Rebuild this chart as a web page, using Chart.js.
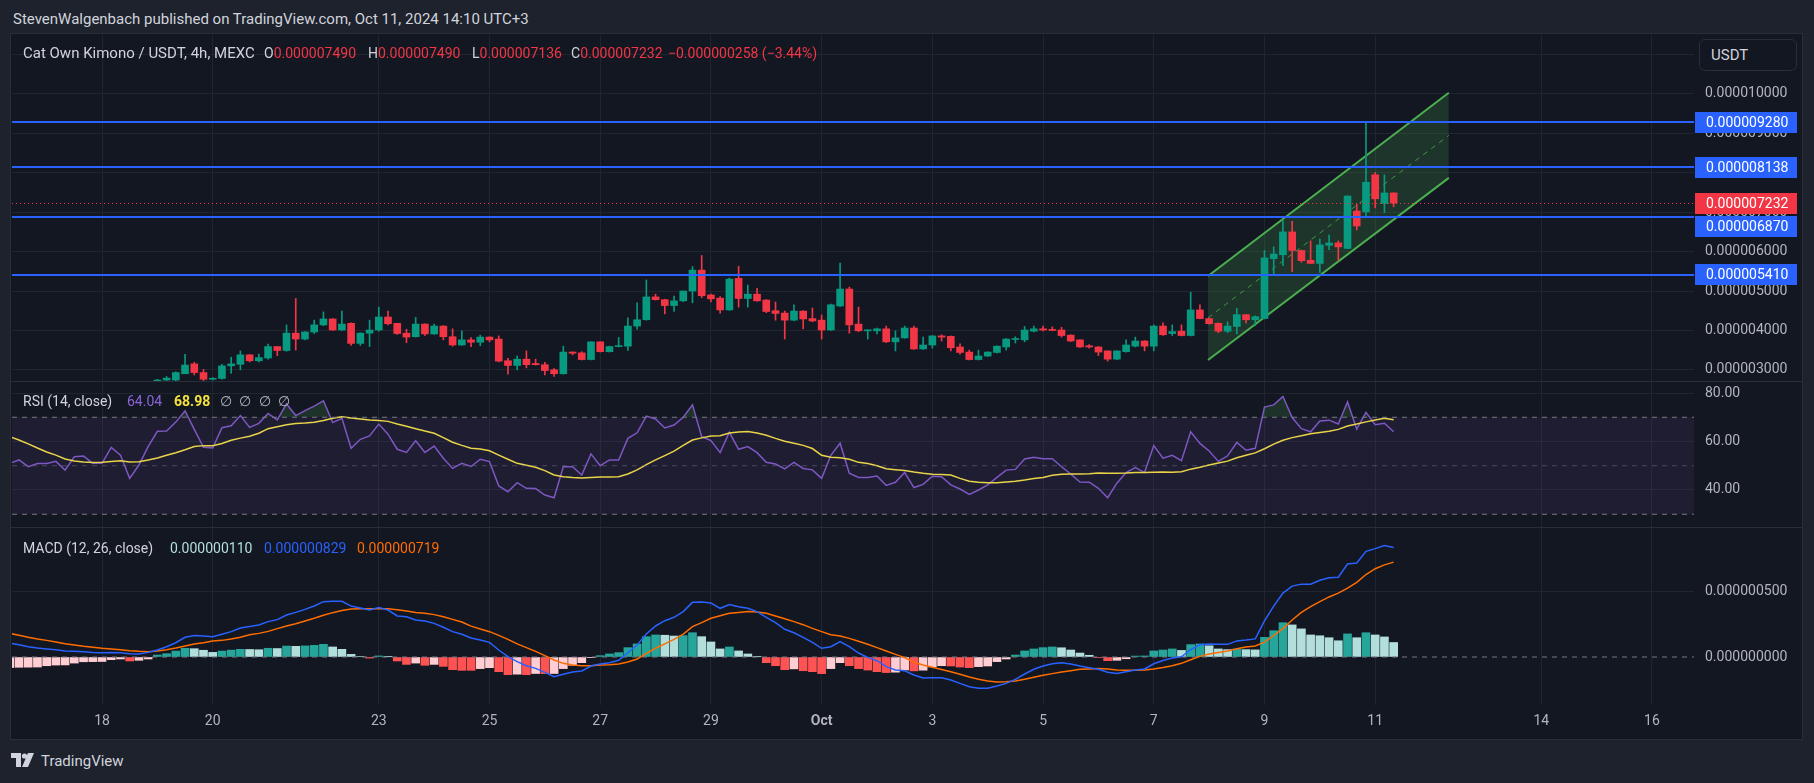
<!DOCTYPE html>
<html>
<head>
<meta charset="utf-8">
<script src="https://cdn.jsdelivr.net/npm/chart.js@4.4.1/dist/chart.umd.min.js"></script>
<style>
   html, body { margin: 0; padding: 0; width: 1814px; height: 783px; overflow: hidden; background: #1e222d; font-family: Roboto, 'Noto Sans', sans-serif; }
   .abs { position: absolute; }
   #frame { left: 10px; top: 33px; width: 1791px; height: 705px; background: #131722; border: 1px solid #2a2e39; }
   .sep { left: 11px; width: 1791px; height: 1px; background: #2a2e39; }
   canvas { position: absolute; left: 12px; }
   .txt { white-space: nowrap; line-height: 20px; font-size: 14px; color: #d1d4dc; }
   #header { left: 13px; top: 9px; font-size: 15px; color: #d1d4dc; }
   #usdt { left: 1699px; top: 39px; width: 96px; height: 30px; border: 1px solid #2a2e39; border-radius: 6px; background: #131722; color: #d1d4dc; font-size: 15px; line-height: 30px; box-sizing: content-box; }
   #usdt span { margin-left: 11px; }
   .red { color: #f23645; }
   #tvlogo { left: 11px; top: 751px; color: #d1d4dc; font-size: 15px; line-height: 20px; }
</style>
</head>
<body>
<div id="frame" class="abs"></div>
<canvas id="mainChart" width="1789" height="346" style="top:35px"></canvas>
<canvas id="rsiChart" width="1789" height="145" style="top:382px"></canvas>
<canvas id="macdChart" width="1789" height="210" style="top:528px"></canvas>
<div class="abs sep" style="top:381px"></div>
<div class="abs sep" style="top:527px"></div>

<div id="header" class="abs txt">StevenWalgenbach published on TradingView.com, Oct 11, 2024 14:10 UTC+3</div>

<div class="abs txt" style="left:23px;top:43px;font-size:15px">Cat Own Kimono / USDT, 4h, MEXC</div>
<div class="abs txt" style="left:264px;top:43px">O<span class="red">0.000007490</span></div>
<div class="abs txt" style="left:368px;top:43px">H<span class="red">0.000007490</span></div>
<div class="abs txt" style="left:472px;top:43px">L<span class="red">0.000007136</span></div>
<div class="abs txt" style="left:571px;top:43px">C<span class="red">0.000007232</span></div>
<div class="abs txt red" style="left:668px;top:43px">−0.000000258 (−3.44%)</div>

<div class="abs txt" style="left:23px;top:391px">RSI (14, close)</div>
<div class="abs txt" style="left:127px;top:391px;color:#8a64d6">64.04</div>
<div class="abs txt" style="left:174px;top:391px;color:#f5e23c;font-weight:bold">68.98</div>
<div class="abs txt" style="left:220px;top:391px;color:#b2b5be;word-spacing:4px">∅ ∅ ∅ ∅</div>

<div class="abs txt" style="left:23px;top:538px">MACD (12, 26, close)</div>
<div class="abs txt" style="left:170px;top:538px;color:#b2dfdb">0.000000110</div>
<div class="abs txt" style="left:264px;top:538px;color:#2962ff">0.000000829</div>
<div class="abs txt" style="left:357px;top:538px;color:#ff6d00">0.000000719</div>

<div id="usdt" class="abs"><span>USDT</span></div>

<div id="tvlogo" class="abs">
   <svg width="26" height="14" viewBox="0 0 26 14" style="vertical-align:-1px"><path d="M0 0h10v14h-5V5H0z M17 0h6l-6 14h-6z" fill="#d1d4dc"/><circle cx="13.5" cy="3" r="2.6" fill="#d1d4dc"/></svg><span style="margin-left:4px">TradingView</span>
</div>

<script>
// prices in units of 1e-6 USDT, MACD in units of 1e-9, one value per 4h candle
const FIRST_CANDLE = 6;        // candle index of opens[0]; index 0 = Sep 18 00:00
const FIRST_IND = -10;         // candle index of rsiValues[0] etc.

const opens = [
   2.70, 2.74, 2.74, 2.90, 3.15, 2.93, 2.76, 2.78, 3.10, 3.14,
   3.38, 3.23, 3.30, 3.59, 3.49, 3.93, 3.78, 3.96, 4.14, 4.29,
   4.01, 4.18, 3.67, 3.93, 4.01, 4.34, 4.18, 3.93, 3.84, 4.16,
   3.91, 4.11, 3.84, 3.63, 3.76, 3.70, 3.83, 3.78, 3.23, 3.11,
   3.27, 3.16, 3.13, 3.00, 2.90, 3.45, 3.43, 3.26, 3.71, 3.46,
   3.59, 3.60, 4.11, 4.27, 4.85, 4.78, 4.63, 4.75, 5.00, 5.53,
   4.90, 4.82, 4.52, 5.32, 4.81, 4.92, 4.77, 4.50, 4.44, 4.26,
   4.49, 4.30, 4.26, 4.01, 4.62, 5.05, 4.16, 3.99, 3.99, 4.04,
   3.71, 3.81, 4.06, 3.53, 3.63, 3.86, 3.85, 3.58, 3.45, 3.26,
   3.35, 3.44, 3.58, 3.77, 3.76, 3.98, 4.04, 4.01, 4.01, 3.88,
   3.76, 3.61, 3.58, 3.48, 3.27, 3.46, 3.60, 3.73, 3.60, 4.11,
   3.92, 3.98, 3.87, 4.52, 4.30, 4.18, 3.98, 4.10, 4.40, 4.27,
   4.30, 5.82, 5.92, 6.50, 6.03, 5.78, 5.70, 6.16, 6.22, 6.08,
   7.03, 7.01, 7.95, 7.22, 7.49
];
const highs = [
   2.76, 2.83, 2.95, 3.39, 3.19, 3.01, 2.80, 3.14, 3.32, 3.48,
   3.39, 3.40, 3.65, 3.59, 4.14, 4.81, 3.97, 4.26, 4.47, 4.30,
   4.49, 4.19, 3.94, 4.26, 4.59, 4.49, 4.18, 4.03, 4.33, 4.17,
   4.16, 4.12, 4.04, 3.99, 3.82, 3.88, 3.84, 3.86, 3.29, 3.35,
   3.48, 3.27, 3.19, 3.03, 3.60, 3.46, 3.46, 3.71, 3.71, 3.60,
   3.82, 4.32, 4.70, 5.28, 4.92, 4.79, 4.87, 5.00, 5.62, 5.90,
   4.92, 4.86, 5.33, 5.63, 5.15, 5.07, 4.78, 4.72, 4.49, 4.65,
   4.50, 4.57, 4.39, 4.67, 5.71, 5.10, 4.59, 4.01, 4.06, 4.11,
   3.99, 4.11, 4.11, 3.83, 3.87, 3.89, 3.86, 3.66, 3.50, 3.50,
   3.46, 3.61, 3.79, 3.84, 4.10, 4.11, 4.11, 4.09, 4.08, 3.89,
   3.76, 3.64, 3.59, 3.48, 3.48, 3.76, 3.83, 3.74, 4.14, 4.19,
   4.14, 4.14, 4.97, 4.65, 4.31, 4.19, 4.22, 4.56, 4.41, 4.37,
   6.03, 6.12, 6.79, 6.77, 6.04, 6.27, 6.32, 6.42, 6.27, 7.42,
   7.20, 9.28, 8.01, 7.95, 7.49
];
const lows = [
   2.65, 2.72, 2.72, 2.90, 2.87, 2.72, 2.74, 2.76, 2.91, 3.00,
   3.20, 3.20, 3.27, 3.36, 3.47, 3.50, 3.76, 3.92, 4.12, 4.00,
   4.00, 3.62, 3.62, 3.59, 3.98, 4.14, 3.90, 3.69, 3.83, 3.87,
   3.90, 3.76, 3.60, 3.62, 3.59, 3.61, 3.71, 3.20, 2.89, 3.00,
   3.05, 3.12, 2.87, 2.83, 2.89, 3.38, 3.25, 3.25, 3.45, 3.45,
   3.58, 3.49, 4.03, 4.26, 4.77, 4.42, 4.48, 4.73, 4.70, 4.83,
   4.72, 4.44, 4.51, 4.59, 4.59, 4.74, 4.45, 4.26, 3.78, 4.25,
   4.04, 4.22, 3.78, 4.00, 4.60, 3.93, 3.97, 3.78, 3.91, 3.69,
   3.48, 3.80, 3.52, 3.52, 3.55, 3.73, 3.48, 3.40, 3.25, 3.25,
   3.34, 3.43, 3.50, 3.68, 3.71, 3.96, 3.99, 3.99, 3.83, 3.72,
   3.57, 3.55, 3.36, 3.22, 3.26, 3.45, 3.58, 3.48, 3.48, 3.87,
   3.87, 3.86, 3.86, 4.29, 4.16, 3.94, 3.94, 3.91, 4.19, 4.12,
   4.29, 5.44, 5.64, 5.49, 5.73, 5.69, 5.47, 6.05, 5.78, 6.07,
   6.55, 6.89, 7.11, 6.99, 7.136
];
const closes = [
   2.74, 2.79, 2.93, 3.12, 2.93, 2.76, 2.78, 3.10, 3.15, 3.38,
   3.23, 3.31, 3.59, 3.49, 3.93, 3.78, 3.96, 4.14, 4.29, 4.01,
   4.16, 3.67, 3.93, 4.01, 4.34, 4.17, 3.92, 3.83, 4.16, 3.91,
   4.11, 3.84, 3.63, 3.76, 3.70, 3.83, 3.76, 3.22, 3.11, 3.27,
   3.13, 3.13, 2.98, 2.90, 3.45, 3.42, 3.26, 3.71, 3.46, 3.59,
   3.60, 4.11, 4.27, 4.85, 4.78, 4.63, 4.75, 5.00, 5.53, 4.88,
   4.80, 4.52, 5.30, 4.81, 4.92, 4.75, 4.48, 4.43, 4.26, 4.49,
   4.29, 4.24, 4.01, 4.65, 5.05, 4.14, 3.99, 4.00, 4.04, 3.71,
   3.81, 4.06, 3.53, 3.63, 3.86, 3.83, 3.56, 3.44, 3.26, 3.35,
   3.45, 3.60, 3.78, 3.79, 4.01, 4.04, 4.01, 4.00, 3.87, 3.73,
   3.58, 3.58, 3.45, 3.27, 3.48, 3.63, 3.73, 3.60, 4.11, 3.89,
   3.97, 3.87, 4.52, 4.30, 4.17, 3.98, 4.11, 4.40, 4.27, 4.35,
   5.84, 5.94, 6.50, 6.03, 5.77, 5.70, 6.17, 6.22, 6.12, 7.41,
   6.65, 7.76, 7.34, 7.49, 7.232
];

const rsiValues = [
   51.0, 52.4, 49.6, 50.9, 50.9, 51.8, 48.2, 53.7, 54.0, 51.0,
   51.0, 57.6, 54.4, 44.8, 50.3, 57.9, 64.2, 64.3, 68.0, 72.6,
   65.0, 57.6, 57.3, 65.7, 66.5, 70.7, 65.8, 67.5, 71.6, 68.9,
   75.5, 70.7, 72.7, 74.6, 76.8, 67.8, 69.6, 57.2, 60.9, 62.3,
   67.2, 63.0, 56.8, 55.5, 60.3, 55.5, 58.1, 53.1, 48.9, 51.0,
   49.7, 52.7, 51.7, 41.7, 39.3, 43.0, 40.7, 40.6, 37.9, 36.8,
   49.6, 49.6, 46.2, 54.9, 50.0, 52.4, 52.4, 61.3, 63.6, 70.5,
   69.3, 65.6, 66.8, 70.0, 75.1, 62.0, 60.4, 55.4, 63.8, 56.8,
   57.9, 55.4, 51.4, 50.7, 48.7, 51.4, 48.9, 48.3, 44.8, 54.3,
   59.3, 46.9, 45.2, 45.2, 45.8, 41.9, 43.2, 47.2, 41.0, 42.3,
   45.7, 45.5, 42.1, 40.4, 38.2, 40.0, 42.1, 45.2, 48.2, 48.5,
   52.8, 53.5, 52.9, 52.9, 49.6, 46.6, 43.3, 43.2, 40.7, 36.8,
   42.8, 47.2, 49.2, 47.2, 58.3, 53.1, 54.3, 52.1, 64.0, 59.2,
   56.1, 51.8, 54.1, 59.6, 56.4, 57.2, 74.2, 75.1, 78.6, 69.9,
   65.3, 64.0, 68.5, 68.8, 67.2, 76.3, 65.1, 72.0, 66.9, 67.5,
   64.04
];
const rsiMaValues = [
   62.0, 60.6, 59.0, 57.3, 55.7, 54.4, 52.8, 52.0, 51.5, 51.3,
   51.4, 51.8, 52.1, 51.5, 51.7, 52.4, 53.2, 54.3, 55.4, 56.6,
   57.9, 58.3, 58.3, 59.2, 60.5, 61.4, 62.2, 63.4, 65.3, 66.1,
   66.9, 67.4, 67.6, 67.9, 68.7, 69.6, 70.2, 69.7, 69.3, 68.9,
   68.7, 68.3, 67.2, 66.3, 65.3, 64.3, 63.4, 61.6, 59.7, 58.4,
   57.2, 56.9, 56.2, 54.4, 52.7, 51.0, 50.2, 49.4, 48.0, 46.2,
   45.5, 45.2, 45.0, 45.2, 45.4, 45.4, 45.5, 46.6, 48.3, 50.5,
   52.4, 54.2, 56.0, 58.4, 60.6, 61.5, 62.3, 62.4, 63.5, 63.9,
   64.1, 63.5, 62.6, 61.3, 60.1, 59.3, 58.4, 57.1, 54.3, 53.5,
   53.3, 52.7, 51.4, 50.9, 50.0, 48.8, 48.4, 48.0, 47.4, 46.9,
   46.5, 46.4, 46.2, 44.8, 43.6, 43.2, 43.0, 43.0, 43.3, 43.6,
   44.1, 44.7, 45.2, 46.1, 46.5, 46.6, 46.6, 46.7, 47.0, 46.9,
   46.9, 47.0, 47.2, 47.2, 47.3, 47.4, 47.3, 47.5, 48.6, 49.4,
   50.3, 51.1, 51.9, 53.3, 54.3, 55.3, 57.0, 58.9, 60.5, 61.6,
   62.4, 63.2, 63.7, 64.2, 65.0, 66.4, 67.2, 68.1, 68.9, 69.6,
   68.98
];
const macdValues = [
   106, 93, 78, 68, 61, 55, 45, 43, 40, 35,
   33, 35, 33, 25, 23, 35, 53, 78, 108, 149,
   162, 159, 154, 172, 192, 220, 231, 242, 268, 283,
   318, 338, 361, 386, 419, 422, 422, 386, 371, 356,
   374, 356, 311, 305, 280, 273, 255, 225, 192, 172,
   144, 129, 111, 53, 3, -35, -66, -86, -116, -149,
   -131, -114, -106, -68, -53, -43, -25, 33, 91, 174,
   235, 275, 301, 344, 414, 417, 409, 369, 397, 381,
   369, 344, 301, 260, 210, 184, 149, 111, 66, 78,
   116, 78, 30, -3, -28, -73, -99, -104, -136, -159,
   -158, -158, -174, -200, -225, -237, -237, -220, -200, -169,
   -129, -93, -68, -51, -43, -53, -68, -81, -93, -116,
   -124, -111, -99, -91, -51, -26, -7, 2, 55, 93,
   99, 96, 96, 122, 128, 137, 274, 385, 484, 537,
   552, 552, 581, 601, 604, 704, 712, 800, 821, 844,
   829
];
const signalValues = [
   179, 164, 149, 136, 126, 114, 101, 91, 81, 73,
   66, 61, 55, 48, 43, 40, 45, 55, 68, 83,
   98, 108, 121, 126, 136, 149, 168, 179, 194, 215,
   235, 252, 273, 293, 316, 336, 353, 364, 366, 366,
   366, 366, 358, 348, 338, 331, 321, 305, 285, 265,
   234, 212, 192, 164, 134, 99, 71, 43, 10, -23,
   -48, -61, -66, -66, -61, -58, -53, -38, -15, 28,
   66, 99, 134, 174, 230, 260, 293, 313, 331, 338,
   344, 341, 331, 311, 290, 268, 245, 217, 192, 169,
   159, 141, 119, 96, 71, 46, 20, -5, -40, -61,
   -78, -95, -111, -131, -152, -169, -182, -189, -187, -182,
   -169, -154, -139, -126, -114, -104, -93, -91, -88, -91,
   -99, -101, -101, -99, -91, -80, -66, -48, -21, 5,
   23, 34, 46, 63, 75, 84, 113, 163, 215, 280,
   338, 382, 420, 455, 484, 522, 566, 625, 669, 698,
   719
];
const histValues = [
   -80, -78, -77, -76, -66, -61, -60, -46, -36, -35,
   -34, -20, -15, -30, -25, -15, 15, 25, 45, 66,
   63, 51, 35, 45, 52, 58, 57, 55, 66, 64,
   83, 81, 84, 88, 96, 76, 58, 20, 4, -8,
   8, 2, -30, -56, -46, -63, -56, -71, -96, -101,
   -101, -88, -81, -111, -134, -130, -134, -125, -126, -125,
   -88, -63, -43, -5, 10, 23, 33, 71, 99, 154,
   167, 165, 159, 162, 184, 154, 114, 61, 76, 46,
   23, 2, -43, -66, -96, -90, -104, -111, -126, -88,
   -43, -66, -88, -99, -111, -118, -115, -98, -105, -100,
   -75, -66, -68, -76, -81, -73, -68, -35, -15, 15,
   46, 61, 71, 76, 70, 53, 30, 13, -3, -28,
   -25, -13, 7, 8, 46, 53, 61, 50, 94, 99,
   85, 61, 56, 61, 56, 54, 149, 199, 260, 243,
   213, 167, 161, 146, 123, 175, 146, 184, 167, 152,
   110
];

// horizontal levels, last price, channel drawing (price units 1e-6)
const levelPrices = [9.280, 8.138, 6.870, 5.410];
const lastPrice = 7.232;
const channelDays = [19.98, 24.33];
const channelUpper = [5.38, 10.03];
const channelLower = [3.25, 7.87];
const channelMid = [4.32, 8.95];

// axis ticks (x in days from Sep 18 00:00)
const dayTicks = [0, 2, 5, 7, 9, 11, 13, 15, 17, 19, 21, 23, 26, 28];
const dayLabels = ['18', '20', '23', '25', '27', '29', 'Oct', '3', '5', '7', '9', '11', '14', '16'];
const priceTicks = [3, 4, 5, 6, 7, 8, 9, 10, 11];
const rsiTicks = [40, 60, 80];
const rsiLevels = [70, 50, 30];
const macdTicks = [0, 500];

const X_MIN = -1.626, X_MAX = 28.759;
const UP = '#089981', DOWN = '#f23645', LEVEL = '#2962ff';
const GRID = '#21252f', AXIS_TEXT = '#b2b5be';

Chart.defaults.font.family = "Roboto, 'Noto Sans', sans-serif";
Chart.defaults.font.size = 14;
Chart.defaults.color = AXIS_TEXT;

const candleDays = opens.map((o, i) => (FIRST_CANDLE + i) / 6);
const indDays = rsiValues.map((v, i) => (FIRST_IND + i) / 6);
const candleColors = opens.map((o, i) => closes[i] >= o ? UP : DOWN);
const histColors = histValues.map((v, i) => {
   const prev = i > 0 ? histValues[i - 1] : v - 1;
   if (v >= 0) return v > prev ? '#26a69a' : '#b2dfdb';
   return v > prev ? '#ffcdd2' : '#ff5252';
});
const pts = (days, vals) => vals.map((v, i) => ({ x: days[i], y: v }));
const hline = (v) => [{ x: X_MIN, y: v }, { x: X_MAX, y: v }];

function xAxis(withLabels) {
   return {
      type: 'linear', min: X_MIN, max: X_MAX, offset: false,
      afterBuildTicks: (s) => { s.ticks = dayTicks.map(v => ({ value: v })); },
      afterFit: (s) => { s.height = withLabels ? 33 : 0; s.paddingLeft = 0; s.paddingRight = 0; },
      grid: { color: GRID, drawTicks: false, offset: false },
      border: { display: false },
      ticks: {
         display: withLabels, autoSkip: false, maxRotation: 0, padding: 8, color: AXIS_TEXT,
         callback: (v) => dayLabels[dayTicks.indexOf(v)],
         font: (c) => ({ size: 14, weight: c.tick && c.tick.label === 'Oct' ? 'bold' : 'normal' })
      }
   };
}

function yAxis(min, max, ticks, fmt, hideZero) {
   return {
      type: 'linear', position: 'right', min: min, max: max,
      afterBuildTicks: (s) => { s.ticks = ticks.map(v => ({ value: v })); },
      // fixed axis width, and no label padding eating into the pane height
      afterFit: (s) => { s.width = 107; s.paddingTop = 0; s.paddingBottom = 0; },
      grid: { color: (c) => (hideZero && c.tick && c.tick.value === 0) ? 'rgba(0,0,0,0)' : GRID, drawTicks: false },
      border: { display: false },
      ticks: { padding: 11, color: AXIS_TEXT, callback: fmt, font: { size: 14 } }
   };
}

function makeChart(id, datasets, yOpts, withLabels, plugins) {
   return new Chart(document.getElementById(id), {
      type: 'line',
      data: { datasets: datasets },
      options: {
         responsive: false, animation: false, events: [],
         layout: { padding: 0 },
         plugins: { legend: { display: false }, tooltip: { enabled: false } },
         elements: { point: { radius: 0 }, line: { tension: 0 } },
         scales: { x: xAxis(withLabels), y: yOpts }
      },
      plugins: plugins || []
   });
}

// blue levels, dotted last price and their tags on the price axis
const priceLevels = {
   id: 'priceLevels',
   afterDatasetsDraw(chart) {
      const { ctx, chartArea: a, scales: { y } } = chart;
      ctx.save();
      const py0 = Math.round(y.getPixelForValue(lastPrice)) + 0.5;
      ctx.strokeStyle = DOWN; ctx.lineWidth = 1; ctx.setLineDash([1, 3]);
      ctx.beginPath(); ctx.moveTo(a.left, py0); ctx.lineTo(a.right, py0); ctx.stroke();
      ctx.setLineDash([]);
      ctx.strokeStyle = LEVEL; ctx.lineWidth = 2;
      levelPrices.forEach(p => {
         const py = Math.round(y.getPixelForValue(p));
         ctx.beginPath(); ctx.moveTo(a.left, py); ctx.lineTo(a.right, py); ctx.stroke();
      });
      ctx.restore();
   },
   afterDraw(chart) {
      const { ctx, chartArea: a, scales: { y } } = chart;
      const tags = levelPrices.map(p => ({ v: p, bg: LEVEL }))
         .concat([{ v: lastPrice, bg: DOWN }])
         .map(t => Object.assign(t, { top: Math.round(y.getPixelForValue(t.v) - 10.5) }))
         .sort((p, q) => p.top - q.top);
      for (let i = 1; i < tags.length; i++) {
         const prevBottom = tags[i - 1].top + 21;
         if (tags[i].top < prevBottom + 2) tags[i].top = prevBottom + 2;
      }
      ctx.save();
      ctx.font = "14px Roboto, 'Noto Sans', sans-serif";
      ctx.textBaseline = 'middle';
      tags.forEach(t => {
         ctx.fillStyle = t.bg;
         ctx.fillRect(a.right + 1, t.top, 102, 21);
         ctx.fillStyle = '#ffffff';
         ctx.fillText((t.v / 1e6).toFixed(9), a.right + 12, t.top + 11);
      });
      ctx.restore();
   }
};

makeChart('mainChart', [
   { type: 'line', data: pts(channelDays, channelUpper), borderColor: '#4caf50', borderWidth: 2, fill: '+1', backgroundColor: 'rgba(76,175,80,0.2)', order: 5 },
   { type: 'line', data: pts(channelDays, channelLower), borderColor: '#4caf50', borderWidth: 2, order: 5 },
   { type: 'line', data: pts(channelDays, channelMid), borderColor: 'rgba(76,175,80,0.8)', borderWidth: 1, borderDash: [5, 5], order: 5 },
   { type: 'bar', data: opens.map((o, i) => ({ x: candleDays[i], y: [lows[i], highs[i]] })), backgroundColor: candleColors, barThickness: 1, grouped: false, order: 2 },
   { type: 'bar', data: opens.map((o, i) => ({ x: candleDays[i], y: [o, closes[i]] })), backgroundColor: candleColors, barThickness: 7, grouped: false, minBarLength: 1, order: 1 }
], yAxis(2.716, 11.497, priceTicks, (v) => (v / 1e6).toFixed(9)), false, [priceLevels]);

makeChart('rsiChart', [
   { data: hline(rsiLevels[0]), borderColor: '#787b86', borderWidth: 1, borderDash: [5, 5], fill: '+1', backgroundColor: 'rgba(126,87,194,0.1)' },
   { data: hline(rsiLevels[2]), borderColor: '#787b86', borderWidth: 1, borderDash: [5, 5] },
   { data: hline(rsiLevels[1]), borderColor: 'rgba(120,123,134,0.5)', borderWidth: 1, borderDash: [5, 5] },
   { data: pts(indDays, rsiMaValues), borderColor: '#f5e23c', borderWidth: 1.5 },
   { data: pts(indDays, rsiValues), borderColor: '#7e57c2', borderWidth: 1.5,
     fill: { target: { value: 70 }, above: 'rgba(76,175,80,0.18)', below: 'rgba(0,0,0,0)' } }
], yAxis(24.74, 84.54, rsiTicks, (v) => v.toFixed(2)), false);

makeChart('macdChart', [
   { data: hline(0), borderColor: '#787b86', borderWidth: 1, borderDash: [5, 5], order: 3 },
   { data: pts(indDays, signalValues), borderColor: '#ff6d00', borderWidth: 1.5, order: 1 },
   { data: pts(indDays, macdValues), borderColor: '#2962ff', borderWidth: 1.5, order: 0 },
   { type: 'bar', data: pts(indDays, histValues), backgroundColor: histColors, barThickness: 8, grouped: false, order: 4 }
], yAxis(-363.6, 977.3, macdTicks, (v) => (v / 1e9).toFixed(9), true), true);
</script>
</body>
</html>
